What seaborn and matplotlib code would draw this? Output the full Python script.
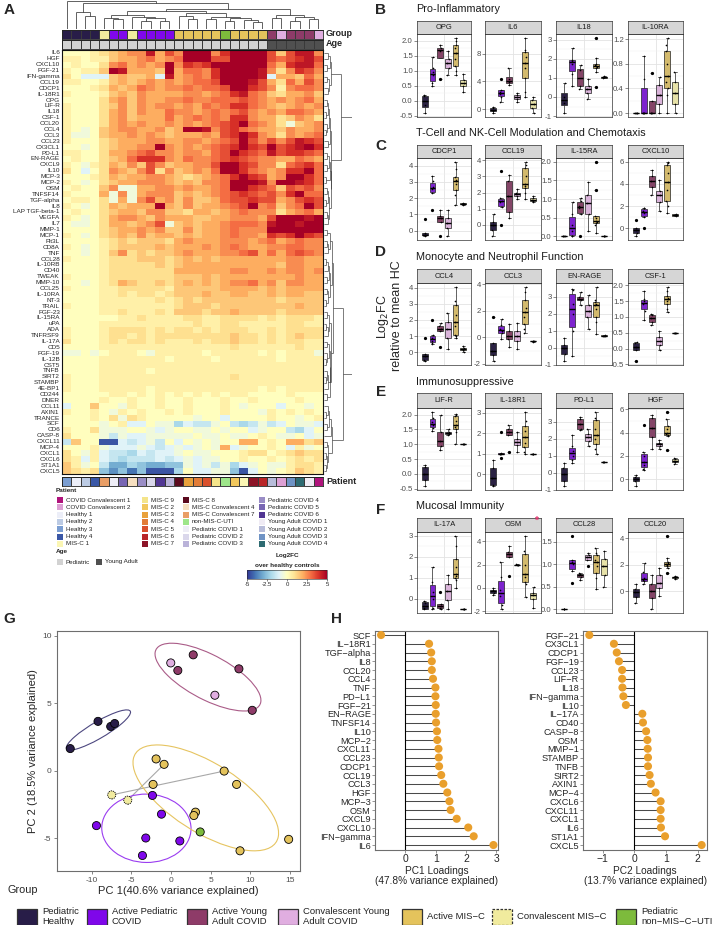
import numpy as np
import pandas as pd
import matplotlib
matplotlib.use('Agg')
import matplotlib.pyplot as plt
import seaborn as sns
from matplotlib.colors import ListedColormap
from matplotlib.patches import Rectangle, Ellipse
from matplotlib.collections import LineCollection

# ======================= DATA =======================
PROTEINS = ['IL6','HGF','CXCL10','FGF-21','IFN-gamma','CCL19','CDCP1','IL-18R1','OPG','LIF-R','IL18','CSF-1',
            'CCL20','CCL4','CCL3','CCL23','CX3CL1','PD-L1','EN-RAGE','CXCL9','IL10','MCP-3','MCP-2','OSM',
            'TNFSF14','TGF-alpha','IL8','LAP TGF-beta-1','VEGFA','IL7','MMP-1','MCP-1','Flt3L','CD8A','TNF',
            'CCL28','IL-10RB','CD40','TWEAK','MMP-10','CCL25','IL-10RA','NT-3','TRAIL','FGF-23','IL-15RA','uPA',
            'ADA','TNFRSF9','IL-17A','CD5','FGF-19','IL-12B','CST5','TNFB','SIRT2','STAMBP','4E-BP1','CD244',
            'DNER','CCL11','AXIN1','TRANCE','SCF','CD6','CASP-8','CXCL11','MCP-4','CXCL1','CXCL6','ST1A1','CXCL5']

# heatmap values, one string per protein, one character per patient column
# '0'..'9' = 0..4.5 (steps of 0.5), 'X' = 5, 'a'..'j' = -0.5..-5
HEAT_ROWS = [
 "0001 23455947 5XXX58XXXX 737995", "1101 13445645 6XXX77XXXX 767897", "0100 2564545X 5878XXXXXX 648996",
 "1011 3X94443X 46658XXXX9 525875", "20bb b34334b9 45658XXXX9 b44364", "1100 13434545 45667XXX97 426475",
 "0001 24346545 565667XX87 515665", "1000 13435444 4554568965 324453",
 "0000 24535445 5655666765 454564", "1000 23535455 4546568865 434545", "1000 24535446 5545656754 546654",
 "1000 24534446 4565658854 423542", "1000 24545445 4545678X65 42a345", "10a0 34554453 4XX9578654 435445",
 "1aa0 34454543 4445478X85 425456", "1000 23444554 4554567X75 757987", "00a0 234455X5 4545678X87 X789X8",
 "1100 24456755 455467X876 978876", "0100 23468885 4655678765 544654", "10a1 24353753 44557XX875 526786",
 "20b0 25435725 34546XX865 4588X6", "0001 24344554 3234568X87 45XX86", "10a0 23445554 343556XXX9 5XX986",
 "0100 35aa4455 454456XX87 637675", "1000 4a5a4555 3434567876 758X66", "0110 2a4a5745 3533467787 745787",
 "10a0 243444X4 35344567X5 6356X7", "0100 23443553 3244345655 524564", "10a0 24554354 4433445554 7XXX9X",
 "0aa0 2443457a 3434456665 9XX9XX", "0000 23445453 3534456555 XXXXXX", "10a0 23435344 3434456554 878X87",
 "0000 12323332 4544455545 645655", "10a0 12333343 4445456544 556655", "00a0 13523233 4544455674 646765",
 "1000 12223332 3434344444 445544", "0000 12222232 3444444444 435544", "0000 12222222 4444445544 545545",
 "1000 12222222 3334344444 444544", "00a0 12432232 3434345564 535544", "1000 11222221 3333344443 434444",
 "0000 11212212 3334334433 434433", "0000 11111121 2323333333 323333", "1000 11111111 2333233333 333433",
 "0000 11211121 3332334333 323333",
 "0000 00112111 1221122221 212221", "0000 11111111 1121122111 112211", "1000 12222121 2212122211 212222",
 "1000 12212122 2222223221 212322", "2000 12122121 1121223221 212211", "0000 11111111 1111112111 111211",
 "aa0a 01110a11 1110111110 10111a", "0000 11111110 1111011111 101111", "0000 11111111 1111111111 111111",
 "0000 11111011 1111111111 111111", "1000 11111111 1111112111 111111", "1000 11111111 1111111111 111111",
 "1000 11111011 1111111110 101111", "0000 01101010 1010101100 001000", "0000 10010010 0100010010 000100",
 "b003 00a10010 0100010a00 0b00a0", "1001 0a101001 010001000a 101010", "0001 02a21000 00a00b0000 100a01",
 "0000 a01bb0aa dbcca0cdca cb0aab", "1002 aaa00aba 00aa0a00ba 00cdb0", "2000 acabbaaa aa0aa0aa01 0aa0ba",
 "c300 iibcbac0 b0a0a00440 104423", "0001 abbbabcb aba0a4ba00 10b1a0", "20a1 bccdbcbb a0aa000122 012322",
 "21b1 bcdcccbc babaa00100 101212", "31a0 cffdeffe eabacadba0 aa1221", "3212 egeheiii d0bbaaeib0 a01321",
]

PATIENT_ORDER = ['Healthy 3','Healthy 1','Healthy 2','Healthy 4','MIS-C Convalescent 7','Pediatric COVID 1',
                 'Pediatric COVID 5','MIS-C Convalescent 4','Pediatric COVID 4','Pediatric COVID 2',
                 'Pediatric COVID 6','Pediatric COVID 3','MIS-C 8','MIS-C 3','MIS-C 4','MIS-C 5','MIS-C 9',
                 'non-MIS-C-UTI','MIS-C 2','MIS-C 1','MIS-C 7','MIS-C 6','Young Adult COVID 2',
                 'COVID Convalescent 2','Young Adult COVID 3','Young Adult COVID 4','Young Adult COVID 1',
                 'COVID Convalescent 1']
COL_GROUP = (['Pediatric Healthy'] * 4 +
             ['Convalescent MIS-C', 'Active Pediatric COVID', 'Active Pediatric COVID', 'Convalescent MIS-C'] +
             ['Active Pediatric COVID'] * 4 + ['Active MIS-C'] * 5 + ['Pediatric non-MIS-C-UTI'] +
             ['Active MIS-C'] * 4 +
             ['Active Young Adult COVID', 'Convalescent Young Adult COVID', 'Active Young Adult COVID',
              'Active Young Adult COVID', 'Active Young Adult COVID', 'Convalescent Young Adult COVID'])
COL_AGE = ['Pediatric'] * 22 + ['Young Adult'] * 6

# dendrogram merge heights between adjacent leaves
COL_DENDRO_H = [10, 6.0, 4.5, 9.2, 4.0, 3.5, 5.0, 4.2, 3.0, 3.8, 2.8, 6.3, 4.5, 3.5, 5.5, 3.5, 4.2, 3.0,
                3.8, 3.2, 2.5, 7.0, 3.8, 5.0, 3.0, 4.3, 3.5]
ROW_DENDRO_H = [1.5,2.0,1.2,2.5,1.0,1.8,1.4,6.0,1.0,1.6, 0.8,1.9,1.2,0.9,2.2,1.3,2.6,1.1,1.7,1.0,
                2.0,0.9,2.4,1.2,1.5,0.8,1.9,1.1,1.4,10.0, 1.2,2.1,1.0,1.6,2.8,0.9,1.3,1.8,1.0,2.3,
                1.1,1.6,0.8,3.2,1.2,1.9,0.9,1.5,2.5,1.0, 1.7,1.2,0.8,2.0,1.1,0.7,1.4,2.2,1.0,7.0,
                1.3,0.9,1.8,1.1,2.5,3.0,1.0,1.6,0.8,1.2,0.9]

PATIENT_LEGEND = ['COVID Convalescent 1','COVID Convalescent 2','Healthy 1','Healthy 2','Healthy 3','Healthy 4',
                  'MIS-C 1','MIS-C 9','MIS-C 2','MIS-C 3','MIS-C 4','MIS-C 5','MIS-C 6','MIS-C 7','MIS-C 8',
                  'MIS-C Convalescent 4','MIS-C Convalescent 7','non-MIS-C-UTI','Pediatric COVID 1',
                  'Pediatric COVID 2','Pediatric COVID 3','Pediatric COVID 4','Pediatric COVID 5',
                  'Pediatric COVID 6','Young Adult COVID 1','Young Adult COVID 2','Young Adult COVID 3',
                  'Young Adult COVID 4']

# boxplot panels
G6 = ['Pediatric Healthy','Active Pediatric COVID','Active Young Adult COVID',
      'Convalescent Young Adult COVID','Active MIS-C','Convalescent MIS-C']
BOX_PANELS = [
    ('Pro-Inflammatory', ['OPG', 'IL6', 'IL18', 'IL-10RA']),
    ('T-Cell and NK-Cell Modulation and Chemotaxis', ['CDCP1', 'CCL19', 'IL-15RA', 'CXCL10']),
    ('Monocyte and Neutrophil Function', ['CCL4', 'CCL3', 'EN-RAGE', 'CSF-1']),
    ('Immunosuppressive', ['LIF-R', 'IL-18R1', 'PD-L1', 'HGF']),
    ('Mucosal Immunity', ['IL-17A', 'OSM', 'CCL28', 'CCL20']),
]
BOX_VALUES = {
 'OPG': [[-0.42,-0.15,0.15,0.2],[0.5,0.6,0.85,0.95,1.1,1.45],[0.72,1.65,1.75,1.85],[0.85,1.1,1.25,1.4,1.65],
         [0.85,1.0,1.15,1.4,1.6,1.75,1.85,2.0,2.1],[0.3,0.48,0.6,0.68,0.9]],
 'IL6': [[-0.5,-0.3,0.1,0.35],[1.0,1.8,2.2,2.4,2.8,4.3],[3.5,3.9,4.3,5.9],[1.0,1.4,1.7,2.0,2.3],
         [1.8,2.5,4.5,6.0,6.6,7.5,8.2,8.5,10.3],[-0.6,0.2,0.7,1.3,1.8]],
 'IL18': [[-0.85,-0.3,0.0,0.75],[0.6,1.2,1.75,1.9,1.95,2.55],[0.4,0.6,1.4,1.7],[-0.1,0.2,0.4,0.6,0.95],
          [0.5,1.3,1.5,1.55,1.6,1.7,1.75,2.05,3.1],[0.98,1.03,1.06,1.1]],
 'IL-10RA': [[0,0,0,0],[0,0,0,0,0.55,0.93],[0,0,0,0.2,0.65],[0,0.15,0.3,0.45,0.58],
             [0,0.3,0.4,0.5,0.6,0.8,1.0,1.1,1.22],[0,0.15,0.33,0.5,0.67]],
 'CDCP1': [[-0.35,-0.3,-0.25,-0.15,0.7],[1.3,2.35,2.55,2.7,3.05,3.4],[-0.35,0.5,0.75,0.9,1.25],
           [-0.35,0.15,0.45,0.8,1.25],[1.6,2.2,2.5,2.9,3.05,3.15,3.3,3.8,4.25],[1.6,1.63,1.67,1.7]],
 'CCL19': [[-0.7,-0.3,0.0,0.2,0.7],[0.0,1.1,1.4,1.5,1.65,3.3],[0.4,0.8,1.8,2.7,3.1],[1.6,1.8,1.9,2.0,2.2],
           [1.6,2.0,2.3,2.4,2.5,3.0,3.5,3.7,3.9],[1.4,1.5,1.55,1.65,1.8]],
 'IL-15RA': [[0,0,0,0],[0,0,0.15,0.3,0.6,0.93],[0,0.6,0.75,0.82,0.95,1.03],[0.15,0.6,0.9,1.1,1.45],
             [0.1,0.3,0.35,0.38,0.4,0.5,0.55,1.25,2.0],[0,0,0,0]],
 'CXCL10': [[-0.7,-0.4,-0.1,0.05,0.8],[0,1.0,1.4,1.6,1.8,1.85],[3.0,3.7,4.3,4.7,5.3],[1.6,2.4,3.0,3.4,4.4],
            [1.4,2.0,2.5,3.5,4.2,5.0,5.7,5.9,6.0],[1.1,1.18,1.25,1.3]],
 'CCL4': [[-0.55,-0.5,-0.2,-0.1,0.9],[0.5,0.6,0.7,0.9,1.05,2.0],[0.3,1.3,1.45,1.6,1.8],[0.2,0.9,1.45,1.9,2.4],
          [0.9,1.0,1.1,1.6,1.9,2.3,2.9,3.2,4.05],[0.0,0.12,0.2,0.28,0.4]],
 'CCL3': [[-1.8,-1.3,-1.0,-0.4,1.5],[-0.1,0.3,0.45,0.6,0.95,1.4],[-0.7,-0.1,0.1,0.45,1.0],
          [-0.85,-0.3,0.1,0.5,1.1],[0.3,0.6,1.0,1.5,1.9,2.2,2.8,3.4,3.8],[-0.32,-0.3,-0.28,-0.3]],
 'EN-RAGE': [[-0.8,-0.4,0.0,0.15,0.55],[-0.5,1.0,2.0,2.6,3.4,3.45],[2.5,2.8,2.9,3.0,3.3],[1.1,1.8,2.15,2.5,3.1],
             [0.8,1.5,1.8,2.3,2.55,2.6,2.7,2.8,3.6],[0.7,0.72,0.72,0.74]],
 'CSF-1': [[-0.4,-0.05,0.05,0.18,0.2],[0.9,1.2,1.4,1.5,1.55,1.8],[0.75,0.85,0.95,1.05,1.1],
           [-0.05,0.12,0.25,0.35,0.55],[1.15,1.25,1.4,1.5,1.55,1.6,1.65,1.8,1.95],[0.5,0.5,0.5,0.5]],
 'LIF-R': [[-0.42,-0.2,0.0,0.22,0.3],[1.45,1.55,1.65,1.75,1.9,2.1],[0.8,0.95,1.1,1.4,2.0],[1.3,1.35,1.38,1.43,1.5],
           [1.0,1.4,1.5,1.6,1.65,1.8,1.95,2.0,2.02],[1.0,1.0,1.0,1.0]],
 'IL-18R1': [[-0.6,-0.55,-0.2,0.3,0.7],[0.8,1.0,1.0,1.0,1.02,2.05],[1.1,1.9,2.05,2.2,2.4],[1.1,1.4,1.55,1.7,2.05],
             [1.0,1.1,1.3,1.5,1.8,2.1,2.35,2.6,3.05],[1.0,1.0,1.0,1.0]],
 'PD-L1': [[-0.8,-0.5,-0.1,0.3,0.6],[0.55,0.75,1.0,1.3,1.55,2.2],[2.5,2.6,2.9,3.2,3.3],[1.6,1.9,2.1,2.3,2.6],
           [1.1,1.4,1.7,2.0,2.25,2.6,3.1,3.25,3.6],[0.65,0.65,0.65,0.65]],
 'HGF': [[-0.6,-0.15,0.0,0.2,0.4],[0.8,0.85,1.2,1.5,2.0,2.3,4.7],[2.6,3.6,4.4,5.3,5.5],[2.6,2.85,3.0,3.15,3.4],
         [2.5,3.75,3.8,3.9,3.95,4.3,4.6,5.2,5.8],[1.3,1.5,1.6,1.7,1.8]],
 'IL-17A': [[-0.5,-0.45,-0.2,-0.1],[-0.5,-0.45,0.0,0.3,0.8,1.5],[-0.5,-0.45,-0.35,-0.25,0.3],
            [-0.5,-0.05,0.35,0.7,1.15],[0.5,0.9,1.0,1.1,1.2,1.5,1.9,2.5,3.0],[-0.5,-0.5,-0.5,-0.5]],
 'OSM': [[-0.6,-0.4,-0.2,0.0],[-1.85,-1.5,-0.7,-0.2,0.9,2.2],[1.0,2.7,2.9,3.1,3.6],[1.95,2.0,2.0,2.05],
         [-0.8,0.3,0.5,0.9,1.2,2.0,2.9,3.2,4.5],[-1.7,-1.0,-0.65,-0.4,0.1]],
 'CCL28': [[0,0,0,0],[0.58,0.85,1.0,1.05,1.1,1.63],[0.65,0.72,0.75,0.78,0.8],[0.95,1.1,1.15,1.2,1.25],
           [0.45,0.7,0.8,0.95,1.05,1.1,1.2,1.25,1.35],[0.5,0.75,0.95,1.12,1.3]],
 'CCL20': [[-0.9,-0.4,-0.05,0.2,0.55],[0.55,0.75,0.85,1.0,1.5,2.15],[-1.35,-0.5,0.0,0.55,1.25],
           [-0.35,0.25,0.6,1.2,1.8],[1.35,1.75,1.9,2.0,2.05,2.15,2.2,2.5,4.2],[0.9,1.0,1.05,1.1,1.15]],
}
BOX_TICKS = {
 'OPG': [-0.5,0,0.5,1,1.5,2], 'IL6': [0,4,8], 'IL18': [-1,0,1,2,3], 'IL-10RA': [0,0.4,0.8,1.2],
 'CDCP1': [0,1,2,3,4], 'CCL19': [-1,0,1,2,3,4], 'IL-15RA': [0,0.5,1,1.5,2], 'CXCL10': [0,2,4,6],
 'CCL4': [0,1,2,3,4], 'CCL3': [-2,0,2,4], 'EN-RAGE': [-1,0,1,2,3], 'CSF-1': [-0.5,0,0.5,1,1.5,2],
 'LIF-R': [-0.5,0,0.5,1,1.5,2], 'IL-18R1': [0,1,2,3], 'PD-L1': [-1,0,1,2,3], 'HGF': [0,2,4,6],
 'IL-17A': [0,1,2,3], 'OSM': [-2,0,2,4], 'CCL28': [0,0.5,1,1.5], 'CCL20': [0,2,4],
}

# PCA scores
PCA_GROUP = (['Pediatric Healthy'] * 4 + ['Active Young Adult COVID'] * 4 + ['Convalescent Young Adult COVID'] * 2 +
             ['Active MIS-C'] * 9 + ['Convalescent MIS-C'] * 2 + ['Pediatric non-MIS-C-UTI'] +
             ['Active Pediatric COVID'] * 6)
PC1 = [-12.7, -9.2, -7.6, -7.1, 2.8, 0.86, 8.56, 10.24, -0.03, 5.53,
       -1.88, -0.87, 6.7, -2.26, 8.27, 3.09, 2.88, 14.83, 8.7, -7.47, -5.45, 3.68,
       -2.34, -1.2, -9.4, -3.18, 1.11, -3.6]
PC2 = [1.64, 3.66, 3.28, 3.5, 8.6, 7.44, 7.56, 4.48, 8.0, 5.6,
       0.87, 0.47, -0.03, -1.02, -1.02, -3.08, -3.33, -5.1, -5.95, -1.8, -2.19, -4.55,
       -1.84, -3.23, -4.08, -5.0, -5.22, -6.3]
PCA_PAIR = [None] * 12 + ['p4'] + [None] * 6 + ['p4', 'p7'] + [None] * 7
PCA_PAIR[11] = 'p7'

# loadings
PC1_NAMES = ['SCF','IL-18R1','TGF-alpha','IL8','CCL20','CCL4','TNF','PD-L1','FGF-21','EN-RAGE','TNFSF14','IL10',
             'MCP-2','CXCL11','CCL23','CDCP1','CCL19','CCL3','HGF','MCP-3','OSM','CXCL9','CXCL10','IFN-gamma','IL6']
PC1_LOAD = [-0.8,0.78,0.85,0.87,0.87,0.91,0.99,0.99,1.0,1.0,1.01,1.04,1.05,1.09,1.1,1.11,1.18,1.25,1.38,
            1.45,1.49,1.69,2.07,2.25,2.9]
PC2_NAMES = ['FGF-21','CX3CL1','CDCP1','FGF-19','CCL23','LIF-R','IL18','IFN-gamma','IL10','IL-17A','CD40','CASP-8',
             'OSM','MMP-1','STAMBP','TNFB','SIRT2','AXIN1','MCP-4','CXCL6','CXCL11','CXCL1','IL6','ST1A1','CXCL5']
PC2_LOAD = [-1.43,-0.65,-0.56,-0.49,-0.39,-0.39,-0.38,-0.35,-0.27,0.25,0.27,0.37,0.41,0.42,0.43,0.43,0.48,
            0.52,0.67,0.83,0.83,0.83,0.84,0.97,2.13]

# ======================= STYLE =======================
GROUP_COLORS = {
    'Pediatric Healthy': '#281d48', 'Active Pediatric COVID': '#7f07ea', 'Active Young Adult COVID': '#8e3b68',
    'Convalescent Young Adult COVID': '#e0aee0', 'Active MIS-C': '#e4c35c', 'Convalescent MIS-C': '#f1eb9e',
    'Pediatric non-MIS-C-UTI': '#7dbb3c'}
AGE_COLORS = {'Pediatric': '#d2d2d2', 'Young Adult': '#505050'}
PATIENT_COLORS = {
    'COVID Convalescent 1': '#b0137c', 'COVID Convalescent 2': '#dda0d4', 'Healthy 1': '#eceef8',
    'Healthy 2': '#bccbe4', 'Healthy 3': '#7b9ed2', 'Healthy 4': '#3a57a6', 'MIS-C 1': '#fbf6b4',
    'MIS-C 9': '#f4e48a', 'MIS-C 2': '#f1c75c', 'MIS-C 3': '#e9a13b', 'MIS-C 4': '#e27c37', 'MIS-C 5': '#d9502c',
    'MIS-C 6': '#b82528', 'MIS-C 7': '#8c1427', 'MIS-C 8': '#5b0a1e', 'MIS-C Convalescent 4': '#f6dfc0',
    'MIS-C Convalescent 7': '#e99e66', 'non-MIS-C-UTI': '#9ee68a', 'Pediatric COVID 1': '#eeedf6',
    'Pediatric COVID 2': '#dad7eb', 'Pediatric COVID 3': '#bab3d9', 'Pediatric COVID 4': '#9a8dc6',
    'Pediatric COVID 5': '#7866b3', 'Pediatric COVID 6': '#513693', 'Young Adult COVID 1': '#efebf4',
    'Young Adult COVID 2': '#b7bcd9', 'Young Adult COVID 3': '#6f93c5', 'Young Adult COVID 4': '#2e6b72'}

W, H = 717, 925
sns.set_theme(style='white')
plt.rcParams['font.family'] = ['Liberation Sans', 'DejaVu Sans']
plt.rcParams['axes.unicode_minus'] = False
fig = plt.figure(figsize=(W / 100, H / 100), dpi=100)


def ax_px(x0, y0, x1, y1):
    return fig.add_axes([x0 / W, 1 - y1 / H, (x1 - x0) / W, (y1 - y0) / H])


def decode(ch):
    if ch.isdigit():
        return int(ch) * 0.5
    if ch == 'X':
        return 5.0
    return -('abcdefghij'.index(ch) + 1) * 0.5


rows = []
for r in HEAT_ROWS:
    s = r.replace(' ', '')
    if len(s) != 28:
        raise ValueError(r)
    rows.append([decode(c) for c in s])
heat = pd.DataFrame(rows, index=PROTEINS, columns=PATIENT_ORDER)

# ---------- Panel A heatmap ----------
axh = ax_px(62, 50, 323, 474)
cax = ax_px(247, 570, 327, 579)
sns.heatmap(heat, ax=axh, cmap='RdYlBu_r', vmin=-5, vmax=5, xticklabels=False, yticklabels=True,
            cbar_ax=cax, cbar_kws={'orientation': 'horizontal', 'ticks': [-5, -2.5, 0, 2.5, 5]})
axh.set_xlabel('')
axh.set_ylabel('')
axh.tick_params(axis='y', length=0, labelsize=4.6, pad=1.5, rotation=0)
for s in axh.spines.values():
    s.set_visible(True); s.set_linewidth(0.8); s.set_color('#111111')
cax.tick_params(labelsize=4.3, length=1.5, pad=1, width=0.4)
cax.set_xticklabels(['-5', '-2.5', '0', '2.5', '5'])
cbar = axh.collections[0].colorbar
cbar.outline.set_linewidth(0.4)


def anno_bar(ax, values, colmap):
    cats = list(colmap.keys())
    codes = [cats.index(v) for v in values]
    sns.heatmap(np.array([codes]), ax=ax, cmap=ListedColormap(list(colmap.values())), vmin=-0.5,
                vmax=len(cats) - 0.5, cbar=False, linewidths=0.5, linecolor='#3a3a3a',
                xticklabels=False, yticklabels=False)
    for s in ax.spines.values():
        s.set_visible(True); s.set_linewidth(0.6); s.set_color('#222222')


anno_bar(ax_px(62, 29.5, 323, 38.5), COL_GROUP, GROUP_COLORS)
anno_bar(ax_px(62, 39.5, 323, 48.5), COL_AGE, AGE_COLORS)
anno_bar(ax_px(62, 477, 323, 486.5), PATIENT_ORDER, PATIENT_COLORS)


def dendro_segments(heights):
    segs = []

    def rec(lo, hi):
        if lo == hi:
            return lo + 0.5, 0.0
        k = lo + int(np.argmax(heights[lo:hi]))
        lx, lh = rec(lo, k)
        rx, rh = rec(k + 1, hi)
        h = heights[k]
        segs.extend([[(lx, lh), (lx, h)], [(rx, rh), (rx, h)], [(lx, h), (rx, h)]])
        return (lx + rx) / 2, h
    rec(0, len(heights))
    return segs


axcd = ax_px(62, 0.5, 323, 29)
axcd.add_collection(LineCollection(dendro_segments(COL_DENDRO_H), colors='#222222', linewidths=0.5))
axcd.set_xlim(0, 28); axcd.set_ylim(0, max(COL_DENDRO_H) * 1.01); axcd.axis('off')

axrd = ax_px(324, 50, 352, 474)
rsegs = [[(p[1], p[0]) for p in seg] for seg in dendro_segments(ROW_DENDRO_H)]
axrd.add_collection(LineCollection(rsegs, colors='#333333', linewidths=0.45))
axrd.set_ylim(72, 0); axrd.set_xlim(0, max(ROW_DENDRO_H) * 1.01); axrd.axis('off')

# ---------- Panels B-F boxplots ----------
FACET_X = [(417, 471), (485, 541), (556, 612), (628, 683)]
FACET_ROWS = [(21, 34, 117), (145, 158, 240), (269, 283, 365), (393, 408, 490), (518, 532, 613)]
TITLE_Y = [9, 133, 257, 382, 506]
LETTER_Y = [10, 146, 252, 392, 510]
pal6 = {g: GROUP_COLORS[g] for g in G6}

for r, (title, prots) in enumerate(BOX_PANELS):
    st, pt, pb = FACET_ROWS[r]
    for c, prot in enumerate(prots):
        x0, x1 = FACET_X[c]
        d = pd.DataFrame([(g, v) for g, lst in zip(G6, BOX_VALUES[prot]) for v in lst], columns=['group', 'value'])
        ax = ax_px(x0, pt, x1, pb)
        ax.set_facecolor('white')
        ticks = BOX_TICKS[prot]
        minors = [(a + b) / 2 for a, b in zip(ticks[:-1], ticks[1:])]
        ax.set_yticks(ticks)
        ax.set_yticks(minors, minor=True)
        ax.grid(axis='y', which='major', color='#e3e3e3', lw=0.6)
        ax.grid(axis='y', which='minor', color='#f1f1f1', lw=0.35)
        ax.axvline(2.5, color='#e3e3e3', lw=0.6, zorder=0)
        ax.set_axisbelow(True)
        sns.boxplot(data=d, x='group', y='value', hue='group', order=G6, hue_order=G6, palette=pal6,
                    width=0.75, linewidth=0.5, linecolor='#222222', fliersize=1.3, legend=False, ax=ax,
                    medianprops={'color': 'black', 'linewidth': 1.0},
                    flierprops={'marker': 'o', 'markerfacecolor': 'black', 'markeredgecolor': 'black'})
        sns.stripplot(data=d, x='group', y='value', order=G6, color='black', size=1.2, jitter=0.12, ax=ax)
        lo, hi = d['value'].min(), d['value'].max()
        rng = hi - lo
        ax.set_ylim(lo - 0.05 * rng, hi + 0.05 * rng)
        ax.set_xlim(-1, 6)
        ax.set_xticks([])
        ax.set_xlabel(''); ax.set_ylabel('')
        dec = any(abs(t - round(t)) > 1e-9 for t in ticks)
        ax.set_yticklabels([f'{t:.1f}' if dec else f'{int(round(t))}' for t in ticks])
        ax.tick_params(axis='y', which='major', labelsize=5.6, labelcolor='#4d4d4d', length=2, width=0.4,
                       pad=1, color='#333333', left=True)
        ax.tick_params(axis='y', which='minor', length=0)
        for s in ax.spines.values():
            s.set_linewidth(0.5); s.set_color('#333333')
        sax = ax_px(x0, st, x1, pt)
        sax.set_facecolor('#d6d6d6')
        sax.set_xticks([]); sax.set_yticks([])
        for s in sax.spines.values():
            s.set_linewidth(0.5); s.set_color('#333333')
        sax.text(0.5, 0.5, prot, ha='center', va='center', fontsize=5.4, color='#1a1a1a', transform=sax.transAxes)

# ---------- Panel G PCA ----------
pca = pd.DataFrame({'PC1': PC1, 'PC2': PC2, 'group': PCA_GROUP, 'pair': PCA_PAIR})
axG = ax_px(57, 631, 300, 871)
for pid in ['p4', 'p7']:
    sub = pca[pca['pair'] == pid]
    axG.plot(sub['PC1'], sub['PC2'], color='#a8a8a8', lw=0.8, zorder=1)
ELLIPSE_SETS = {'Pediatric Healthy': ['Pediatric Healthy'], 'Active Pediatric COVID': ['Active Pediatric COVID'],
                'Active Young Adult COVID': ['Active Young Adult COVID', 'Convalescent Young Adult COVID'],
                'Active MIS-C': ['Active MIS-C']}
ELLIPSE_COLORS = {'Pediatric Healthy': '#4d4880', 'Active Pediatric COVID': '#9a3cf0',
                  'Active Young Adult COVID': '#aa5c88', 'Active MIS-C': '#e6c460'}
K = 1.6
for name, members in ELLIPSE_SETS.items():
    sub = pca[pca['group'].isin(members)][['PC1', 'PC2']].to_numpy()
    mu = sub.mean(0)
    cov = np.cov(sub.T)
    vals, vecs = np.linalg.eigh(cov)
    o = vals.argsort()[::-1]
    vals, vecs = vals[o], vecs[:, o]
    ang = np.degrees(np.arctan2(vecs[1, 0], vecs[0, 0]))
    axG.add_patch(Ellipse(mu, 2 * K * np.sqrt(vals[0]), 2 * K * np.sqrt(vals[1]), angle=ang, fill=False,
                          ec=ELLIPSE_COLORS[name], lw=0.8, zorder=2))
solid = pca[pca['group'] != 'Convalescent MIS-C']
sns.scatterplot(data=solid, x='PC1', y='PC2', hue='group', palette=GROUP_COLORS, s=34, edgecolor='black',
                linewidth=0.6, legend=False, ax=axG, zorder=3)
conv = pca[pca['group'] == 'Convalescent MIS-C']
sns.scatterplot(data=conv, x='PC1', y='PC2', color=GROUP_COLORS['Convalescent MIS-C'], s=34, edgecolor='black',
                linewidth=0.6, linestyle=(0, (1.5, 1.0)), legend=False, ax=axG, zorder=3)
axG.set_xlim(-14.37, 16.26)
axG.set_ylim(-7.45, 10.37)
axG.set_xticks([-10, -5, 0, 5, 10, 15])
axG.set_yticks([-5, 0, 5, 10])
axG.set_xticklabels(['-10', '-5', '0', '5', '10', '15'])
axG.set_yticklabels(['-5', '0', '5', '10'])
axG.tick_params(labelsize=6, labelcolor='#4d4d4d', length=2.5, width=0.5, color='#555555', pad=1.5,
                bottom=True, left=True)
for s in axG.spines.values():
    s.set_linewidth(0.8); s.set_color('#6e6e6e')
axG.set_xlabel('PC 1(40.6% variance explained)', fontsize=8, labelpad=2)
axG.set_ylabel('PC 2 (18.5% variance explained)', fontsize=8, labelpad=3)

# ---------- Panel H loadings ----------
def lollipop(rect, names, vals, xlim, xticks, xticklabels, xlabel):
    ax = ax_px(*rect)
    pos = np.arange(len(names))
    ax.hlines(pos, 0, vals, colors='#4a4a4a', lw=0.75, zorder=1)
    ax.axvline(0, color='black', lw=0.8, zorder=1)
    sns.scatterplot(x=vals, y=pos, color='#e99f2c', s=34, edgecolor='none', ax=ax, zorder=3, legend=False)
    ax.set_ylim(len(names) - 1 + 0.57, -0.46)
    ax.set_xlim(*xlim)
    ax.set_yticks(pos)
    ax.set_yticklabels([n.replace('-', '\u2212') for n in names])
    ax.set_xticks(xticks)
    ax.set_xticklabels(xticklabels)
    ax.tick_params(axis='y', labelsize=6.6, length=2, width=0.4, pad=1, left=True, color='#444444')
    ax.tick_params(axis='x', labelsize=7.5, length=2, width=0.4, pad=1, bottom=True, color='#444444')
    ax.set_xlabel(xlabel, fontsize=7.3, labelpad=1, linespacing=1.05)
    ax.set_ylabel('')
    for s in ax.spines.values():
        s.set_linewidth(0.8); s.set_color('#6e6e6e')


lollipop((375, 631, 498, 850), PC1_NAMES, PC1_LOAD, (-1.0, 3.05), [0, 1, 2, 3], ['0', '1', '2', '3'],
         'PC1 Loadings\n(47.8% variance explained)')
lollipop((583, 631, 707, 850), PC2_NAMES, PC2_LOAD, (-1.63, 2.3), [-1, 0, 1, 2], ['\u22121', '0', '1', '2'],
         'PC2 Loadings\n(13.7% variance explained)')

# ---------- overlay: letters, titles, legends ----------
axO = fig.add_axes([0, 0, 1, 1])
axO.set_xlim(0, W); axO.set_ylim(H, 0); axO.axis('off')

for letter, (x, y) in zip('ABCDEFGH', [(9, 10), (381, LETTER_Y[0]), (381, LETTER_Y[1]), (381, LETTER_Y[2]),
                                       (381, LETTER_Y[3]), (381, LETTER_Y[4]), (9, 619), (337, 619)]):
    axO.text(x, y, letter, fontsize=11, fontweight='bold', ha='center', va='center')
for (title, _), y in zip(BOX_PANELS, TITLE_Y):
    axO.text(416, y, title, fontsize=7.8, ha='left', va='center', color='#1a1a1a')
axO.text(389, 316, 'Log$_2$FC\nrelative to mean HC', fontsize=9, rotation=90, ha='center', va='center',
         linespacing=1.0)
axO.text(537, 521, '*', fontsize=7, color='#e0306a', ha='center', va='center', fontweight='bold')

for lab, y in [('Group', 34), ('Age', 44), ('Patient', 481.5)]:
    axO.text(326, y, lab, fontsize=6.5, fontweight='bold', ha='left', va='center')

# patient legend
axO.text(56, 491, 'Patient', fontsize=4.6, fontweight='bold', ha='left', va='center')
col_x = [57, 142, 183, 259]
for i, p in enumerate(PATIENT_LEGEND):
    cx = col_x[i // 7]
    cy = 500 + (i % 7) * 7.3
    axO.add_patch(Rectangle((cx, cy - 3), 6, 6, facecolor=PATIENT_COLORS[p], edgecolor='none'))
    axO.text(cx + 9, cy, p, fontsize=4.5, ha='left', va='center', color='#222222')
axO.text(56, 552, 'Age', fontsize=4.6, fontweight='bold', ha='left', va='center')
for cx, a in [(57, 'Pediatric'), (96, 'Young Adult')]:
    axO.add_patch(Rectangle((cx, 559), 6, 6, facecolor=AGE_COLORS[a], edgecolor='none'))
    axO.text(cx + 9, 562, a, fontsize=4.5, ha='left', va='center', color='#222222')
axO.text(287, 556, 'Log2FC', fontsize=4.6, fontweight='bold', ha='center', va='center')
axO.text(287, 565, 'over healthy controls', fontsize=4.6, fontweight='bold', ha='center', va='center')

# group legend at bottom
axO.text(7, 890, 'Group', fontsize=7.8, ha='left', va='center')
LEG_ITEMS = [('Pediatric Healthy', 'Pediatric\nHealthy', 17), ('Active Pediatric COVID', 'Active Pediatric\nCOVID', 87),
             ('Active Young Adult COVID', 'Active Young\nAdult COVID', 187),
             ('Convalescent Young Adult COVID', 'Convalescent Young\nAdult COVID', 278),
             ('Active MIS-C', 'Active MIS\u2212C', 402), ('Convalescent MIS-C', 'Convalescent MIS\u2212C', 492),
             ('Pediatric non-MIS-C-UTI', 'Pediatric\nnon\u2212MIS\u2212C\u2212UTI', 616)]
for g, lab, x in LEG_ITEMS:
    ls = (0, (2, 1.2)) if g == 'Convalescent MIS-C' else 'solid'
    axO.add_patch(Rectangle((x, 908.5), 19.5, 16, facecolor=GROUP_COLORS[g], edgecolor='#333333', lw=0.9,
                            linestyle=ls))
    axO.text(x + 25, 916.5, lab, fontsize=6.8, ha='left', va='center', linespacing=1.1, color='#222222')

fig.savefig('out.png', dpi=100)
